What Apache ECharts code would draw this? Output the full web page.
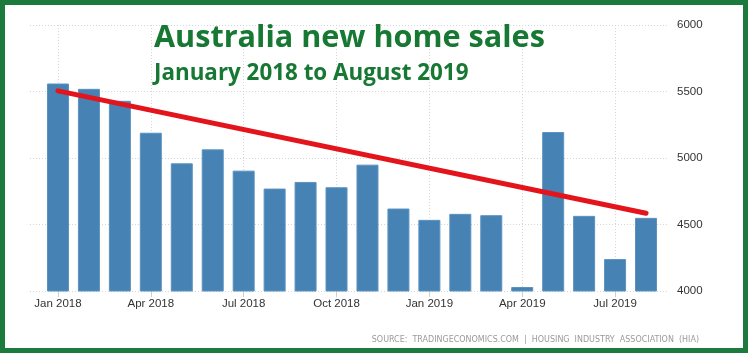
<!DOCTYPE html>
<html>
<head>
<meta charset="utf-8">
<script src="https://cdn.jsdelivr.net/npm/echarts@6/dist/echarts.min.js"></script>
<style>
  html, body { margin: 0; padding: 0; background: #fff; }
  #wrap { position: relative; width: 748px; height: 353px; }
  #chart { width: 748px; height: 353px; }
  #frame { position: absolute; left: 0; top: 0; width: 748px; height: 353px; box-sizing: border-box;
           border: 5px solid #1c7a3c; pointer-events: none; }
</style>
</head>
<body>
<div id="wrap"><div id="chart"></div><div id="frame"></div></div>
<script>
const categories = [
  'Jan 2018','Feb 2018','Mar 2018','Apr 2018','May 2018','Jun 2018','Jul 2018','Aug 2018','Sep 2018','Oct 2018',
  'Nov 2018','Dec 2018','Jan 2019','Feb 2019','Mar 2019','Apr 2019','May 2019','Jun 2019','Jul 2019','Aug 2019'
];
const sales = [5560, 5520, 5430, 5190, 4960, 5065, 4905, 4770, 4820, 4780,
               4950, 4620, 4535, 4580, 4570, 4030, 5195, 4565, 4240, 4550];
const trendStart = 5505;
const trendEnd = 4585;
const yTicks = [4000, 4500, 5000, 5500, 6000];
const titleText = 'Australia new home sales';
const subtitleText = 'January 2018 to August 2019';
const sourceText = 'SOURCE:  TRADINGECONOMICS.COM  |  HOUSING  INDUSTRY  ASSOCIATION  (HIA)';

const trend = categories.map((c, i) => i === 0 ? trendStart : (i === categories.length - 1 ? trendEnd : null));

const chart = echarts.init(document.getElementById('chart'), null, { renderer: 'canvas' });
const gridLine = { color: '#d6d6d6', width: 1, type: [1, 2] };
chart.setOption({
  animation: false,
  backgroundColor: '#ffffff',
  title: [
    { text: titleText, left: 149, top: 16,
      textStyle: { fontFamily: 'Open Sans', fontWeight: 'bold', fontSize: 30.6, color: '#167833', lineHeight: 34 } },
    { text: subtitleText, left: 149, top: 56,
      textStyle: { fontFamily: 'Open Sans', fontWeight: 'bold', fontSize: 22.4, color: '#167833', lineHeight: 26 } },
    { text: sourceText, right: 44, top: 330,
      textStyle: { fontFamily: 'DejaVu Sans Condensed', fontWeight: 'normal', fontSize: 8.9, color: '#9a9a9a', lineHeight: 10 } }
  ],
  grid: [
    { left: 42.5, right: 86.5, top: 25, bottom: 62 },
    { left: 30, right: 80, top: 25, bottom: 62 }
  ],
  xAxis: [
    { type: 'category', gridIndex: 0, data: categories, boundaryGap: true,
      axisLine: { show: false },
      axisTick: { show: true, alignWithLabel: true, interval: 2, length: 6, lineStyle: { color: '#cfcfcf' } },
      axisLabel: { interval: 2, margin: 7, fontFamily: 'Liberation Sans', fontSize: 11.5, color: '#333' },
      splitLine: { show: true, interval: 2, alignWithLabel: true, lineStyle: gridLine } },
    { type: 'value', gridIndex: 1, show: false, min: 0, max: 1 }
  ],
  yAxis: [
    { type: 'value', gridIndex: 0, position: 'right', min: 4000, max: 6000, interval: 500,
      axisLine: { show: false }, axisTick: { show: false }, splitLine: { show: false },
      axisLabel: { show: false } },
    { type: 'value', gridIndex: 1, position: 'right', min: yTicks[0], max: yTicks[yTicks.length - 1], interval: 500,
      axisLine: { show: false }, axisTick: { show: false },
      splitLine: { show: true, lineStyle: gridLine },
      axisLabel: { margin: 9, fontFamily: 'Liberation Sans', fontSize: 11.5, color: '#333', align: 'left',
                   formatter: v => String(v) } }
  ],
  series: [
    { type: 'bar', xAxisIndex: 0, yAxisIndex: 0, data: sales, barWidth: 22,
      itemStyle: { color: '#4682b4', borderColor: '#5a92c0', borderWidth: 1 }, z: 2 },
    { type: 'line', xAxisIndex: 0, yAxisIndex: 0, data: trend, connectNulls: true, symbol: 'none',
      lineStyle: { color: '#e3141b', width: 5, cap: 'round' }, z: 5 }
  ]
});
</script>
</body>
</html>
